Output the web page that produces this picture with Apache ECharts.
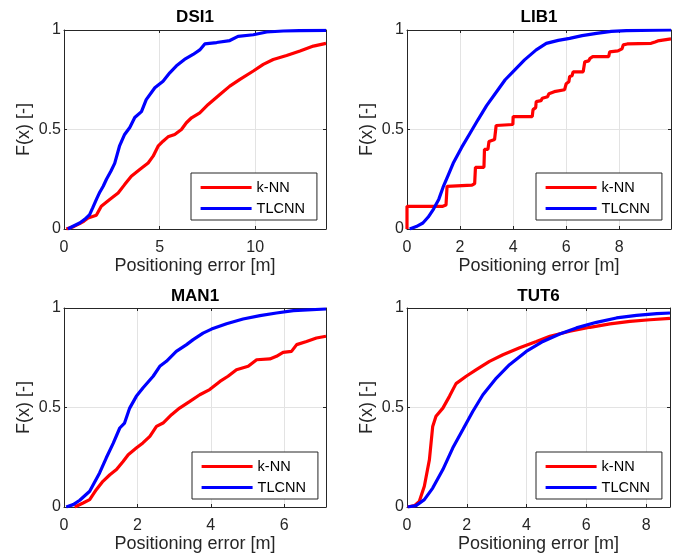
<!DOCTYPE html>
<html>
<head>
<meta charset="utf-8">
<script src="https://cdn.jsdelivr.net/npm/echarts@6/dist/echarts.min.js"></script>
<style>
  html, body { margin: 0; padding: 0; background: #fff; }
  #chart { width: 687px; height: 560px; }
</style>
</head>
<body>
<div id="chart"></div>
<script>
// panel titles and x-axis ranges
var titles = ['DSI1', 'LIB1', 'MAN1', 'TUT6'];
var xMax = [13.7, 9.95, 7.14, 8.8];
var xStep = [5, 2, 2, 2];
var seriesNames = ['k-NN', 'TLCNN'];

// CDF curves, [error, F(x)]
var dsi1Knn = [[0.12,0],[0.5,0.012],[0.82,0.027],[1.05,0.04],[1.26,0.055],[1.69,0.069],[1.95,0.114],[2.39,0.148],[2.83,0.181],[3.17,0.223],[3.52,0.265],[3.96,0.299],[4.4,0.332],[4.66,0.366],[4.92,0.416],[5.18,0.441],[5.44,0.463],[5.79,0.475],[6.14,0.5],[6.4,0.534],[6.67,0.559],[7.1,0.584],[7.54,0.626],[8.15,0.676],[8.67,0.718],[9.2,0.752],[9.9,0.794],[10.42,0.827],[10.94,0.852],[11.64,0.872],[12.34,0.894],[13.04,0.919],[13.7,0.933]];
var dsi1Tlcnn = [[0.2,0],[0.5,0.015],[0.82,0.03],[1.1,0.05],[1.34,0.072],[1.5,0.106],[1.7,0.15],[1.87,0.185],[2.05,0.215],[2.22,0.25],[2.45,0.29],[2.65,0.33],[2.9,0.416],[3.17,0.475],[3.44,0.51],[3.7,0.56],[4.05,0.59],[4.3,0.65],[4.75,0.71],[5.18,0.743],[5.53,0.785],[5.88,0.82],[6.3,0.852],[6.75,0.877],[7.1,0.9],[7.36,0.93],[7.98,0.937],[8.67,0.947],[9.1,0.968],[9.9,0.976],[10.6,0.99],[11.47,0.995],[12.3,0.997],[13.7,0.998]];

var lib1Knn = [[0,0],[0,0.114],[1.35,0.114],[1.47,0.12],[1.51,0.12],[1.51,0.214],[2.45,0.22],[2.55,0.228],[2.58,0.31],[2.9,0.31],[2.92,0.4],[3.05,0.4],[3.09,0.44],[3.3,0.45],[3.35,0.45],[3.36,0.52],[3.99,0.525],[4.0,0.565],[4.72,0.565],[4.75,0.6],[4.85,0.61],[4.87,0.64],[5.05,0.645],[5.1,0.657],[5.3,0.665],[5.35,0.68],[5.55,0.69],[5.6,0.7],[5.94,0.7],[6.0,0.73],[6.1,0.74],[6.13,0.766],[6.22,0.77],[6.26,0.79],[6.64,0.79],[6.7,0.84],[6.85,0.845],[6.9,0.858],[7.0,0.866],[7.6,0.866],[7.64,0.89],[7.95,0.895],[8.0,0.9],[8.1,0.905],[8.15,0.925],[8.3,0.93],[9.2,0.933],[9.35,0.94],[9.45,0.945],[9.5,0.953],[9.95,0.955]];
var lib1Tlcnn = [[0.1,0],[0.35,0.012],[0.6,0.03],[0.8,0.06],[1.0,0.1],[1.2,0.15],[1.36,0.21],[1.55,0.27],[1.74,0.33],[2.06,0.41],[2.37,0.48],[2.68,0.55],[3.0,0.62],[3.43,0.7],[3.7,0.75],[3.99,0.79],[4.43,0.85],[4.87,0.9],[5.25,0.933],[5.7,0.948],[6.13,0.958],[6.6,0.972],[7.14,0.983],[7.7,0.993],[8.27,0.997],[9.95,1.0]];

var man1Knn = [[0.29,0],[0.52,0.02],[0.7,0.037],[0.88,0.087],[1.06,0.129],[1.25,0.162],[1.43,0.188],[1.61,0.229],[1.75,0.263],[1.97,0.296],[2.15,0.322],[2.34,0.355],[2.52,0.405],[2.7,0.422],[2.93,0.464],[3.15,0.497],[3.43,0.531],[3.7,0.564],[3.97,0.59],[4.25,0.631],[4.47,0.657],[4.7,0.69],[5.02,0.707],[5.25,0.74],[5.61,0.744],[5.79,0.757],[5.97,0.777],[6.2,0.782],[6.34,0.816],[6.61,0.832],[6.88,0.849],[7.14,0.858]];
var man1Tlcnn = [[0.06,0],[0.25,0.012],[0.43,0.034],[0.7,0.079],[0.97,0.171],[1.15,0.246],[1.34,0.32],[1.52,0.397],[1.65,0.422],[1.79,0.497],[1.97,0.556],[2.15,0.598],[2.43,0.657],[2.61,0.707],[2.79,0.732],[3.06,0.782],[3.34,0.816],[3.52,0.841],[3.79,0.874],[4.02,0.894],[4.43,0.921],[4.88,0.945],[5.34,0.962],[5.79,0.975],[6.25,0.987],[7.14,0.995]];

var tut6Knn = [[0.02,0],[0.25,0.007],[0.41,0.028],[0.58,0.104],[0.75,0.238],[0.86,0.405],[0.97,0.456],[1.2,0.497],[1.42,0.556],[1.64,0.62],[1.98,0.657],[2.32,0.69],[2.76,0.732],[3.21,0.765],[3.77,0.8],[4.33,0.832],[4.78,0.858],[5.45,0.883],[6.12,0.903],[6.79,0.92],[7.46,0.933],[8.13,0.941],[8.8,0.948]];
var tut6Tlcnn = [[0.02,0],[0.3,0.007],[0.58,0.037],[0.86,0.095],[1.2,0.188],[1.53,0.296],[1.87,0.389],[2.2,0.48],[2.54,0.564],[2.99,0.648],[3.43,0.715],[3.99,0.782],[4.55,0.832],[5.11,0.869],[5.67,0.9],[6.34,0.928],[7.01,0.95],[7.68,0.963],[8.36,0.972],[8.8,0.975]];

var curves = [[dsi1Knn, dsi1Tlcnn], [lib1Knn, lib1Tlcnn], [man1Knn, man1Tlcnn], [tut6Knn, tut6Tlcnn]];

// panel boxes in pixels
var boxes = [
  {left: 64, top: 30, width: 262, height: 199},
  {left: 407, top: 30, width: 264, height: 199},
  {left: 64, top: 308, width: 262, height: 199},
  {left: 407, top: 308, width: 263, height: 199}
];
var legendPos = [[191, 173], [536, 173], [192, 452], [536, 452]];

var FONT = '"Liberation Sans", Arial, Helvetica, sans-serif';
var AX = '#262626';
var colors = ['#ff0000', '#0000ff'];

var chart = echarts.init(document.getElementById('chart'));

var grid = [], xAxis = [], yAxis = [], series = [], title = [], legend = [];

boxes.forEach(function (b, i) {
  grid.push({left: b.left, top: b.top, width: b.width, height: b.height, containLabel: false});

  title.push({
    text: titles[i],
    left: b.left + b.width / 2,
    top: i < 2 ? 9 : 288,
    textAlign: 'center',
    padding: 0,
    textStyle: {fontFamily: FONT, fontSize: 17, fontWeight: 'bold', color: '#000'}
  });

  // bottom x axis with labels
  xAxis.push({
    type: 'value', gridIndex: i, position: 'bottom',
    min: 0, max: xMax[i], interval: xStep[i],
    name: 'Positioning error [m]', nameLocation: 'middle', nameGap: 26,
    nameTextStyle: {fontFamily: FONT, fontSize: 18, color: AX},
    axisLine: {show: true, onZero: false, lineStyle: {color: AX, width: 1}},
    axisTick: {show: true, inside: true, length: 3, lineStyle: {color: AX}},
    axisLabel: {fontFamily: FONT, fontSize: 16, color: AX, margin: 11, showMaxLabel: false},
    splitLine: {show: true, lineStyle: {color: '#e3e3e3', width: 1}}
  });
  // top mirror axis
  xAxis.push({
    type: 'value', gridIndex: i, position: 'top',
    min: 0, max: xMax[i], interval: xStep[i],
    axisLine: {show: true, onZero: false, lineStyle: {color: AX, width: 1}},
    axisTick: {show: true, inside: true, length: 3, lineStyle: {color: AX}},
    axisLabel: {show: false},
    splitLine: {show: false}
  });

  yAxis.push({
    type: 'value', gridIndex: i, position: 'left',
    min: 0, max: 1, interval: 0.5,
    name: 'F(x) [-]', nameLocation: 'middle', nameGap: 31,
    nameTextStyle: {fontFamily: FONT, fontSize: 18, color: AX},
    axisLine: {show: true, onZero: false, lineStyle: {color: AX, width: 1}},
    axisTick: {show: true, inside: true, length: 3, lineStyle: {color: AX}},
    axisLabel: {fontFamily: FONT, fontSize: 16, color: AX, margin: 3},
    splitLine: {show: true, lineStyle: {color: '#e3e3e3', width: 1}}
  });
  yAxis.push({
    type: 'value', gridIndex: i, position: 'right',
    min: 0, max: 1, interval: 0.5,
    axisLine: {show: true, onZero: false, lineStyle: {color: AX, width: 1}},
    axisTick: {show: true, inside: true, length: 3, lineStyle: {color: AX}},
    axisLabel: {show: false},
    splitLine: {show: false}
  });

  seriesNames.forEach(function (name, k) {
    series.push({
      name: name,
      type: 'line',
      xAxisIndex: i * 2,
      yAxisIndex: i * 2,
      data: curves[i][k],
      symbol: 'none',
      showSymbol: false,
      smooth: false,
      color: colors[k],
      lineStyle: {color: colors[k], width: 3.2},
      z: 3
    });
  });

  legend.push({
    data: seriesNames,
    orient: 'vertical',
    left: legendPos[i][0],
    top: legendPos[i][1],
    itemWidth: 51,
    itemHeight: 14,
    itemGap: 6,
    padding: [7, 12, 4, 8],
    borderColor: AX,
    borderWidth: 1,
    backgroundColor: '#fff',
    selectedMode: false,
    // hide the marker dot on the legend line
    itemStyle: {color: 'rgba(0,0,0,0)', borderWidth: 0, opacity: 0},
    lineStyle: {width: 3.2},
    textStyle: {fontFamily: FONT, fontSize: 14.5, color: '#000'}
  });
});

chart.setOption({
  animation: false,
  backgroundColor: '#fff',
  title: title,
  legend: legend,
  grid: grid,
  xAxis: xAxis,
  yAxis: yAxis,
  series: series
});
</script>
</body>
</html>
